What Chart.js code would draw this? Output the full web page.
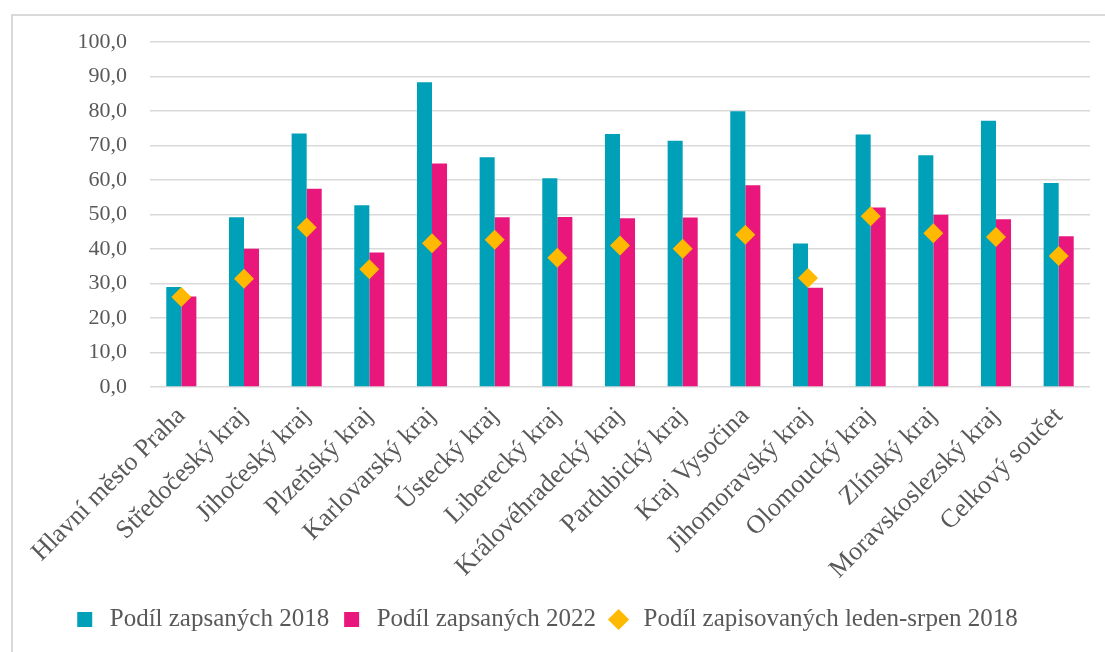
<!DOCTYPE html>
<html>
<head>
<meta charset="utf-8">
<script src="https://cdn.jsdelivr.net/npm/chart.js@4"></script>
<style>
  body { margin: 0; background: #fff; }
  #frame { position: absolute; left: 11px; top: 14px; width: 1100px; height: 700px; border: 2px solid #d9d9d9; }
  #wrap { position: absolute; left: 0; top: 0; width: 1105px; height: 652px; }
</style>
</head>
<body>
<div id="frame"></div>
<div id="wrap"><canvas id="chart"></canvas></div>
<script>
// Regions (kraje) and the three shares
const regions = ['Hlavní město Praha', 'Středočeský kraj', 'Jihočeský kraj', 'Plzeňský kraj',
  'Karlovarský kraj', 'Ústecký kraj', 'Liberecký kraj', 'Královéhradecký kraj', 'Pardubický kraj',
  'Kraj Vysočina', 'Jihomoravský kraj', 'Olomoucký kraj', 'Zlínský kraj', 'Moravskoslezský kraj',
  'Celkový součet'];
const share2018 = [29.0, 49.2, 73.5, 52.7, 88.3, 66.6, 60.5, 73.3, 71.4, 79.9, 41.6, 73.2, 67.2, 77.2, 59.1];
const share2022 = [26.2, 40.1, 57.5, 39.0, 64.8, 49.2, 49.3, 48.9, 49.1, 58.5, 28.8, 52.0, 49.9, 48.6, 43.7];
const shareJanAug2018 = [26.1, 31.4, 46.2, 34.1, 41.7, 42.7, 37.5, 41.0, 40.1, 44.1, 31.6, 49.5, 44.6, 43.5, 38.0];
const yTicks = [0, 10, 20, 30, 40, 50, 60, 70, 80, 90, 100];

const textColor = '#595959';
const serif = "'Liberation Serif', 'Times New Roman', serif";

new Chart(document.getElementById('chart'), {
  data: {
    labels: regions,
    datasets: [
      {
        type: 'bar',
        label: 'Podíl zapsaných 2018',
        data: share2018,
        backgroundColor: '#00A0B8',
        pointStyle: 'rect',
        categoryPercentage: 0.48,
        barPercentage: 1,
        order: 1
      },
      {
        type: 'bar',
        label: 'Podíl zapsaných 2022',
        data: share2022,
        backgroundColor: '#E9177C',
        pointStyle: 'rect',
        categoryPercentage: 0.48,
        barPercentage: 1,
        order: 1
      },
      {
        type: 'line',
        label: 'Podíl zapisovaných leden-srpen 2018',
        data: shareJanAug2018,
        showLine: false,
        pointStyle: 'rectRot',
        pointRadius: 10,
        pointHoverRadius: 10,
        backgroundColor: '#FFB900',
        borderColor: '#FFB900',
        borderWidth: 0,
        order: 0
      }
    ]
  },
  options: {
    responsive: true,
    maintainAspectRatio: false,
    animation: false,
    layout: { padding: { left: 0, right: 15, top: 42, bottom: 10 } },
    plugins: {
      tooltip: { enabled: false },
      legend: {
        position: 'bottom',
        labels: {
          usePointStyle: true,
          boxHeight: 15,
          color: textColor,
          padding: 10,
          font: { family: serif, size: 25 },
          sort: (a, b) => a.datasetIndex - b.datasetIndex
        }
      }
    },
    scales: {
      x: {
        grid: { display: false },
        border: { display: false },
        ticks: {
          autoSkip: false,
          minRotation: 45,
          maxRotation: 45,
          color: textColor,
          padding: 6,
          font: { family: serif, size: 26 }
        },
        afterFit: (scale) => { scale.height = 210; }
      },
      y: {
        min: 0,
        max: 100,
        afterBuildTicks: (scale) => { scale.ticks = yTicks.map(v => ({ value: v })); },
        grid: { color: '#d9d9d9', lineWidth: 1.5, drawTicks: false },
        border: { display: false },
        ticks: {
          color: textColor,
          padding: 23,
          font: { family: serif, size: 22 },
          callback: (v) => v.toFixed(1).replace('.', ',')
        },
        afterFit: (scale) => { scale.width = 150; }
      }
    }
  }
});
</script>
</body>
</html>
